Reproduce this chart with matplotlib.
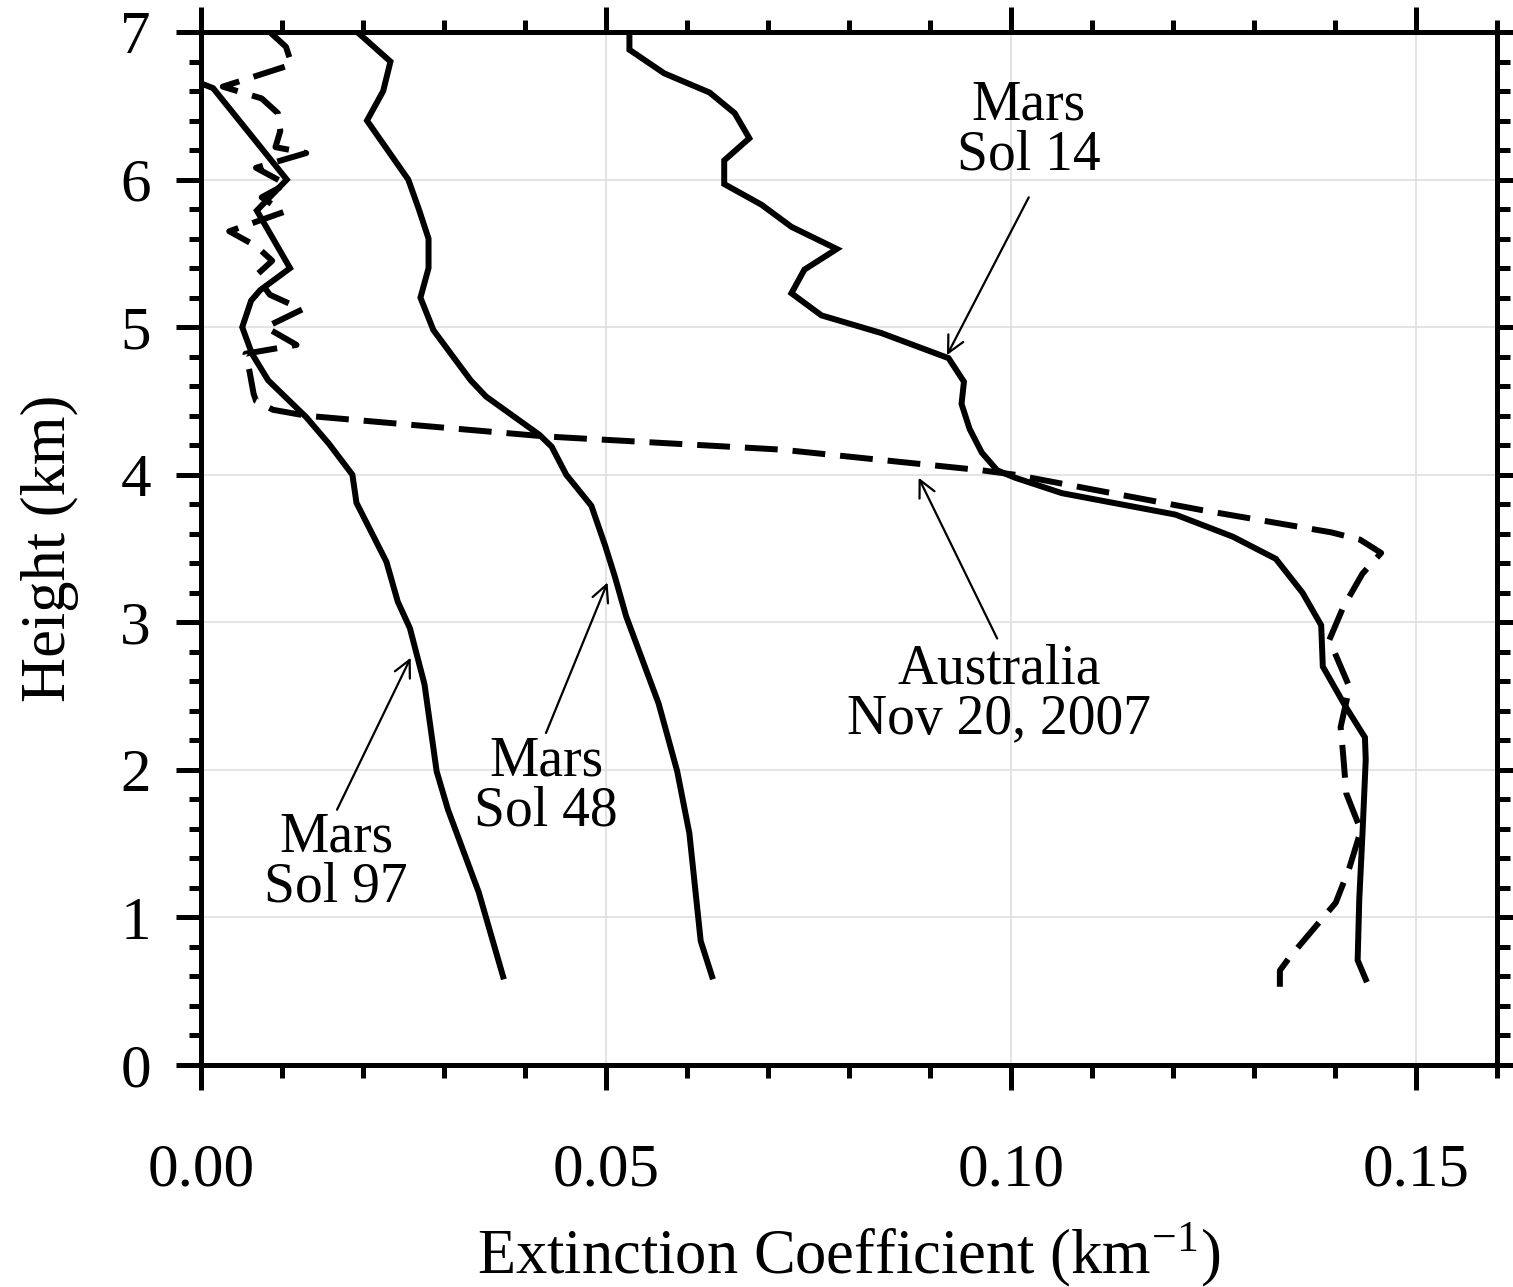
import matplotlib
matplotlib.use("Agg")
import matplotlib.pyplot as plt
from matplotlib.ticker import MultipleLocator, FormatStrFormatter

# Mars Sol 14 (solid, right)
h_sol14 = [7.0, 6.88, 6.72, 6.59, 6.45, 6.28, 6.13, 5.97, 5.83, 5.68, 5.53, 5.39, 5.23, 5.08,
           4.96, 4.79, 4.63, 4.48, 4.31, 4.15, 4.03, 3.98, 3.875, 3.73, 3.58, 3.43, 3.20, 2.98,
           2.70, 2.43, 2.22, 2.07, 1.57, 1.12, 0.71, 0.58]
ext_sol14 = [0.0529, 0.0529, 0.0572, 0.0628, 0.0659, 0.0677, 0.0646, 0.0646, 0.0692, 0.0729,
             0.0785, 0.0745, 0.0729, 0.0766, 0.0840, 0.0923, 0.0942, 0.0939, 0.0949, 0.0964,
             0.0983, 0.1005, 0.1063, 0.1203, 0.1274, 0.1327, 0.1360, 0.1383, 0.1385, 0.1413,
             0.1437, 0.1438, 0.1434, 0.1430, 0.1428, 0.1438]

# Australia Nov 20, 2007 (dashed)
h_aus = [7.0, 6.9, 6.78, 6.63, 6.55, 6.45, 6.33, 6.22, 6.18, 6.08,
         5.97, 5.88, 5.78, 5.65, 5.55, 5.45, 5.35, 5.22, 5.12, 5.0,
         4.88, 4.82, 4.7, 4.55, 4.5, 4.44, 4.40, 4.26, 4.17, 4.10,
         4.03, 4.00, 3.88, 3.76, 3.61, 3.56, 3.47, 3.33, 3.10, 2.88,
         2.56, 2.29, 2.11, 1.84, 1.59, 1.34, 1.10, 0.73, 0.64, 0.53]
ext_aus = [0.0085, 0.0105, 0.0112, 0.0027, 0.0075, 0.0095, 0.0098, 0.0092, 0.0130, 0.0068,
           0.0105, 0.0075, 0.0102, 0.0035, 0.0068, 0.0088, 0.0068, 0.0085, 0.0125, 0.0080,
           0.0118, 0.0055, 0.0060, 0.0065, 0.0068, 0.0089, 0.0130, 0.0424, 0.0717, 0.0840,
           0.0964, 0.1005, 0.112, 0.1236, 0.1395, 0.1431, 0.1457, 0.1434, 0.1410, 0.1393,
           0.1418, 0.1407, 0.1410, 0.1414, 0.1432, 0.1418, 0.1401, 0.1344, 0.1332, 0.1332]

# Mars Sol 48
h_sol48 = [7.0, 6.8, 6.6, 6.4, 6.0, 5.8, 5.6, 5.4, 5.2, 4.98, 4.78, 4.64, 4.53, 4.27, 4.19,
           4.0, 3.79, 3.52, 3.31, 3.04, 2.45, 1.99, 1.57, 0.84, 0.60]
ext_sol48 = [0.0193, 0.0234, 0.0225, 0.0205, 0.0256, 0.0269, 0.0281, 0.0281, 0.0271, 0.0287,
             0.0314, 0.0333, 0.0352, 0.0418, 0.0433, 0.0451, 0.0482, 0.0499, 0.0511, 0.0525,
             0.0565, 0.0588, 0.0603, 0.0617, 0.0631]

# Mars Sol 97
h_sol97 = [6.65, 6.62, 6.0, 5.79, 5.40, 5.25, 5.18, 5.0, 4.82, 4.64, 4.39, 4.21, 4.0, 3.81,
           3.41, 3.14, 2.96, 2.58, 1.99, 1.73, 1.17, 0.60]
ext_sol97 = [0.0001, 0.0015, 0.0106, 0.0069, 0.0110, 0.0073, 0.0062, 0.0051, 0.0063, 0.0083,
             0.0130, 0.0158, 0.0187, 0.0192, 0.0229, 0.0243, 0.0258, 0.0276, 0.0291, 0.0305,
             0.0343, 0.0373]

# labels: text, text center, arrow tail, arrow tip
labels = ["Mars\nSol 14", "Australia\nNov 20, 2007", "Mars\nSol 48", "Mars\nSol 97"]
label_pos = [(0.1022, 6.33), (0.0985, 2.51), (0.0426, 1.89), (0.0167, 1.375)]
arrow_tail = [(0.1022, 5.88), (0.0983, 2.89), (0.0426, 2.25), (0.0168, 1.73)]
arrow_tip = [(0.0921, 4.81), (0.0886, 3.98), (0.0502, 3.27), (0.0259, 2.76)]


def main():
    plt.rcParams['font.family'] = ['Liberation Serif', 'DejaVu Serif']
    plt.rcParams['mathtext.fontset'] = 'stix'

    fig = plt.figure(figsize=(15.13, 12.87), dpi=100)
    ax = fig.add_axes([0.1328, 0.1725, 0.8566, 0.8026])

    lw = 4.3
    ax.plot(ext_sol14, h_sol14, color='black', lw=lw, solid_joinstyle='miter')
    ax.plot(ext_sol48, h_sol48, color='black', lw=lw, solid_joinstyle='miter')
    ax.plot(ext_sol97, h_sol97, color='black', lw=lw, solid_joinstyle='miter')
    ax.plot(ext_aus, h_aus, color='black', lw=lw, linestyle=(0, (5.5, 2.5)))

    for txt, pos, tail, tip in zip(labels, label_pos, arrow_tail, arrow_tip):
        ax.text(pos[0], pos[1], txt, ha='center', va='center', fontsize=40,
                linespacing=0.95, multialignment='center')
        ax.annotate('', xy=tip, xytext=tail,
                    arrowprops=dict(arrowstyle='->', color='black', lw=1.6,
                                    mutation_scale=30, shrinkA=0, shrinkB=0))

    ax.set_xlim(0, 0.16)
    ax.set_ylim(0, 7)
    ax.xaxis.set_major_locator(MultipleLocator(0.05))
    ax.xaxis.set_minor_locator(MultipleLocator(0.01))
    ax.xaxis.set_major_formatter(FormatStrFormatter('%.2f'))
    ax.yaxis.set_major_locator(MultipleLocator(1))
    ax.yaxis.set_minor_locator(MultipleLocator(0.2))

    ax.grid(True, which='major', color='#dcdcdc', lw=1.1)
    ax.set_axisbelow(True)

    for sp in ax.spines.values():
        sp.set_linewidth(3.6)

    ax.tick_params(which='both', direction='out', top=True, right=True,
                   labeltop=False, labelright=False, width=3.6)
    ax.tick_params(which='major', length=18, labelsize=44)
    ax.tick_params(which='minor', length=9)
    ax.tick_params(axis='x', which='major', pad=38)
    ax.tick_params(axis='y', which='major', pad=18)

    ax.set_xlabel("Extinction Coefficient (km$^{\\mathregular{-1}}$)", fontsize=45, labelpad=16)
    ax.set_ylabel("Height (km)", fontsize=45, labelpad=30)

    fig.savefig("out.png", dpi=100)


if __name__ == '__main__':
    main()
